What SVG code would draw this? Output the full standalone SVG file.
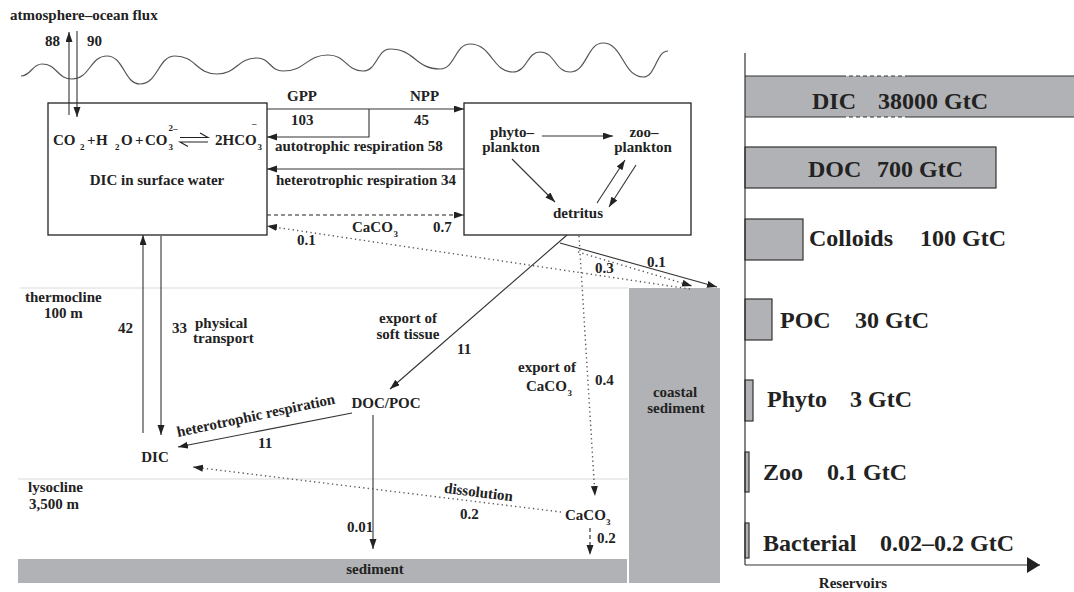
<svg xmlns="http://www.w3.org/2000/svg" width="1074" height="592" viewBox="0 0 1074 592">
<style>
.t{font-family:"Liberation Serif","Times New Roman",serif;font-weight:bold;font-size:15px;fill:#222}
.s{font-size:9px}
.big{font-size:24px}
.ln{stroke:#333;stroke-width:1.1;fill:none}
.dot{stroke:#555;stroke-width:1.4;stroke-dasharray:1.3 3.2;fill:none}
.dash{stroke:#222;stroke-width:1.1;stroke-dasharray:4 3;fill:none}
.box{fill:#fff;stroke:#222;stroke-width:1.3}
.gray{fill:#b1b2b5}
.bar{fill:#b1b2b5;stroke:#333;stroke-width:1.2}
.layer{stroke:#ececec;stroke-width:2}
</style>
<defs>
<marker id="ah" markerUnits="userSpaceOnUse" markerWidth="11" markerHeight="8" refX="10" refY="3.5" orient="auto">
<path d="M0,0 L10,3.5 L0,7 z" fill="#222"/>
</marker>
<marker id="ahb" markerUnits="userSpaceOnUse" markerWidth="14" markerHeight="17" refX="13" refY="8" orient="auto">
<path d="M0,0 L13,8 L0,16 z" fill="#222"/>
</marker>
</defs>

<g id="background">
<line class="layer" x1="20" y1="288" x2="628" y2="288"/>
<line class="layer" x1="18" y1="479" x2="628" y2="479"/>
<path d="M21,76 C31,76 32,64 42,64 C57,64 57,79 72,79 C90,79 90,56 107,56 C124,56 124,84 140,84 C158,84 158,56 175,56 C196,56 196,74 217,74 C237,74 237,58 257,58 C270,58 270,71 283,71 C306,71 306,55 328,55 C346,55 346,71 363,71 C377,71 377,49 390,49 C415,49 415,69 440,69 C455,69 455,44 470,44 C492,44 492,72 513,72 C527,72 527,52 540,52 C555,52 555,72 570,72 C587,72 587,43 603,43 C623,43 623,77 643,77 C656,77 656,51 668,51" fill="none" stroke="#555" stroke-width="1.2"/>
<text class="t" x="10" y="20">atmosphere–ocean flux</text>
<text class="t" x="45" y="46">88</text>
<text class="t" x="87" y="46">90</text>
<text class="t" x="25" y="302">thermocline</text>
<text class="t" x="44" y="318">100 m</text>
<text class="t" x="28" y="492">lysocline</text>
<text class="t" x="29" y="509">3,500 m</text>
</g>

<g id="surface-box">
<rect class="box" x="48" y="103" width="219" height="132"/>
<text class="t" x="53" y="145">CO</text>
<text class="t s" x="80" y="150">2</text>
<text class="t" x="87" y="145">+</text>
<text class="t" x="96" y="145">H</text>
<text class="t s" x="115" y="150">2</text>
<text class="t" x="121" y="145">O</text>
<text class="t" x="135" y="145">+</text>
<text class="t" x="145" y="145">CO</text>
<text class="t s" x="168.5" y="150">3</text>
<text class="t s" x="168.5" y="131">2–</text>
<path d="M180,137.5 H208 L200,133 M208,142 H180 L188,146.5" fill="none" stroke="#222" stroke-width="1.1"/>
<text class="t" x="215" y="145">2HCO</text>
<text class="t s" x="257.5" y="150">3</text>
<text class="t s" x="252" y="126">–</text>
<text class="t" x="157" y="185" text-anchor="middle">DIC in surface water</text>
</g>

<g id="plankton-box">
<rect class="box" x="464" y="103" width="227" height="132"/>
<text class="t" x="512" y="137" text-anchor="middle">phyto–</text>
<text class="t" x="511" y="152" text-anchor="middle">plankton</text>
<text class="t" x="644" y="137" text-anchor="middle">zoo–</text>
<text class="t" x="643" y="152" text-anchor="middle">plankton</text>
<text class="t" x="578" y="218" text-anchor="middle">detritus</text>
</g>

<g id="deep-dic">
<text class="t" x="155" y="462" text-anchor="middle">DIC</text>
</g>
<g id="docpoc">
<text class="t" x="386" y="408" text-anchor="middle">DOC/POC</text>
</g>
<g id="caco3-deep">
<text class="t" x="565" y="520">CaCO</text>
<text class="t s" x="606" y="525">3</text>
</g>
<g id="sediment">
<rect class="gray" x="18" y="559" width="609" height="24"/>
<text class="t" x="375" y="574" text-anchor="middle">sediment</text>
</g>
<g id="coastal-sediment">
<rect class="gray" x="629" y="288" width="91" height="295"/>
<text class="t" x="675" y="397" text-anchor="middle">coastal</text>
<text class="t" x="676" y="413" text-anchor="middle">sediment</text>
</g>

<g id="connectors">
<line class="ln" x1="69" y1="115" x2="69" y2="32" marker-end="url(#ah)"/>
<line class="ln" x1="77" y1="31" x2="77" y2="117" marker-end="url(#ah)"/>
<line class="ln" x1="267" y1="109" x2="464" y2="109" marker-end="url(#ah)"/>
<path class="ln" d="M369,109 V137 H267" marker-end="url(#ah)"/>
<line class="ln" x1="464" y1="169" x2="267" y2="169" marker-end="url(#ah)"/>
<line class="dash" x1="267" y1="215" x2="464" y2="215" marker-end="url(#ah)"/>
<line class="dot" x1="690" y1="289" x2="267" y2="226" marker-end="url(#ah)"/>
<line class="ln" x1="542" y1="136" x2="613" y2="136" marker-end="url(#ah)"/>
<line class="ln" x1="512" y1="159" x2="555" y2="202" marker-end="url(#ah)"/>
<line class="ln" x1="597" y1="203" x2="625" y2="160" marker-end="url(#ah)"/>
<line class="ln" x1="636" y1="165" x2="609" y2="207" marker-end="url(#ah)"/>
<line class="ln" x1="567" y1="235" x2="390" y2="389" marker-end="url(#ah)"/>
<line class="ln" x1="560" y1="243" x2="717" y2="287" marker-end="url(#ah)"/>
<line class="dot" x1="578" y1="252" x2="692" y2="286" marker-end="url(#ah)"/>
<line class="dot" x1="579" y1="236" x2="595" y2="496" marker-end="url(#ah)"/>
<line class="ln" x1="143" y1="433" x2="143" y2="235" marker-end="url(#ah)"/>
<line class="ln" x1="161" y1="236" x2="161" y2="435" marker-end="url(#ah)"/>
<line class="ln" x1="352" y1="413" x2="178" y2="447" marker-end="url(#ah)"/>
<line class="ln" x1="373" y1="415" x2="373" y2="549" marker-end="url(#ah)"/>
<line class="dot" x1="561" y1="512" x2="193" y2="467" marker-end="url(#ah)"/>
<line class="dash" x1="590" y1="528" x2="590" y2="555" stroke-dasharray="3 3" marker-end="url(#ah)"/>
</g>

<g id="connector-labels">
<text class="t" x="287" y="101">GPP</text>
<text class="t" x="410" y="101">NPP</text>
<text class="t" x="291" y="125">103</text>
<text class="t" x="414" y="125">45</text>
<text class="t" x="275" y="151">autotrophic respiration 58</text>
<text class="t" x="276" y="185">heterotrophic respiration 34</text>
<text class="t" x="352" y="232">CaCO</text>
<text class="t s" x="393.5" y="237">3</text>
<text class="t" x="433" y="232">0.7</text>
<text class="t" x="297" y="245">0.1</text>
<text class="t" x="595" y="273">0.3</text>
<text class="t" x="647" y="267">0.1</text>
<text class="t" x="118" y="333">42</text>
<text class="t" x="172" y="333">33</text>
<text class="t" x="195" y="328">physical</text>
<text class="t" x="193" y="343">transport</text>
<text class="t" x="408" y="323" text-anchor="middle">export of</text>
<text class="t" x="408" y="339" text-anchor="middle">soft tissue</text>
<text class="t" x="457" y="354">11</text>
<text class="t" x="547" y="372" text-anchor="middle">export of</text>
<text class="t" x="526" y="391">CaCO</text>
<text class="t s" x="567.5" y="396">3</text>
<text class="t" x="595" y="385">0.4</text>
<text class="t" x="178" y="437" transform="rotate(-12 178 437)">heterotrophic respiration</text>
<text class="t" x="258" y="448">11</text>
<text class="t" x="478" y="497" text-anchor="middle" transform="rotate(7 478 497)">dissolution</text>
<text class="t" x="460" y="519">0.2</text>
<text class="t" x="347" y="532">0.01</text>
<text class="t" x="597" y="543">0.2</text>
</g>

<g id="reservoirs">
<rect class="gray" x="745" y="76" width="329" height="41"/>
<path d="M745,76 H842 M908,76 H1074 M745,117 H842 M908,117 H1074" stroke="#333" stroke-width="1.2" fill="none"/>
<path d="M842,76 H908 M842,117 H908" stroke="#333" stroke-width="1.2" stroke-dasharray="4 3" fill="none"/>
<rect class="bar" x="745" y="147" width="251" height="41"/>
<rect class="bar" x="745" y="219" width="58" height="41"/>
<rect class="bar" x="745" y="299" width="27" height="41"/>
<rect class="bar" x="745" y="380" width="8" height="41"/>
<rect class="bar" x="745" y="452" width="4" height="40"/>
<rect class="bar" x="745" y="523" width="4" height="35"/>
<line x1="745" y1="53" x2="745" y2="565" stroke="#333" stroke-width="1.2"/>
<line x1="745" y1="565" x2="1040" y2="565" stroke="#333" stroke-width="1.2" marker-end="url(#ahb)"/>
<text class="t big" x="812" y="109">DIC</text>
<text class="t big" x="878" y="109">38000 GtC</text>
<text class="t big" x="808" y="177">DOC</text>
<text class="t big" x="877" y="177">700 GtC</text>
<text class="t big" x="809" y="246">Colloids</text>
<text class="t big" x="920" y="246">100 GtC</text>
<text class="t big" x="780" y="328">POC</text>
<text class="t big" x="855" y="328">30 GtC</text>
<text class="t big" x="767" y="407">Phyto</text>
<text class="t big" x="850" y="407">3 GtC</text>
<text class="t big" x="763" y="480">Zoo</text>
<text class="t big" x="827" y="480">0.1 GtC</text>
<text class="t big" x="763" y="551">Bacterial</text>
<text class="t big" x="880" y="551">0.02–0.2 GtC</text>
<text class="t" x="853" y="588" text-anchor="middle">Reservoirs</text>
</g>
</svg>
